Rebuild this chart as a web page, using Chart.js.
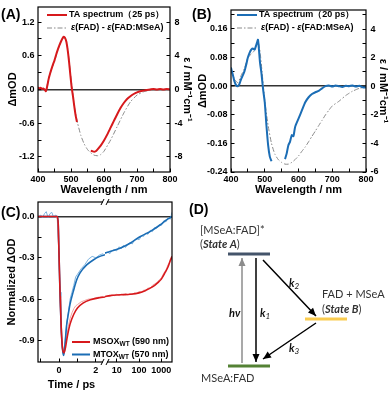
<!DOCTYPE html>
<html>
<head>
<meta charset="utf-8">
<script src="https://cdn.jsdelivr.net/npm/chart.js@4.4.1/dist/chart.umd.min.js"></script>
<style>
  html, body { margin: 0; padding: 0; background: #fff; }
  #wrap { position: relative; width: 390px; height: 393px; overflow: hidden; }
  canvas { position: absolute; }
</style>
</head>
<body>
<div id="wrap">
  <canvas id="chartA" width="195" height="195" style="left:0;top:0"></canvas>
  <canvas id="chartB" width="200" height="195" style="left:190px;top:0"></canvas>
  <canvas id="chartC" width="195" height="198" style="left:0;top:195px"></canvas>
  <canvas id="chartD" width="205" height="198" style="left:185px;top:195px"></canvas>
</div>
<script>
// ---- panel A: TA spectrum at 25 ps (two pieces, gap 520-560 nm) ----
const waveA1 = [400,404,408,412,416,420,424,428,432,436,440,445,450,455,460,465,470,474,478,482,486,490,494,498,502,506,510,514,518];
const taA1 = [0.04,0.02,0.03,0.01,0.02,0.0,-0.03,0.06,0.18,0.27,0.35,0.44,0.52,0.62,0.71,0.79,0.86,0.91,0.94,0.92,0.85,0.70,0.50,0.26,0.04,-0.12,-0.30,-0.46,-0.58];
const waveA2 = [560,565,570,575,580,590,600,610,620,630,640,650,660,670,680,690,700,710,720,730,740,750,760,770,780,790,800];
const taA2 = [-1.09,-1.10,-1.11,-1.10,-1.07,-1.00,-0.91,-0.80,-0.68,-0.56,-0.44,-0.33,-0.24,-0.17,-0.12,-0.08,-0.05,-0.03,-0.02,-0.01,0.0,0.01,0.0,0.01,0.0,0.01,0.0];
// difference spectrum eps(FAD) - eps(FAD:MSeA), mM-1 cm-1
const waveEpsA = [400,410,420,425,430,440,450,460,470,478,485,490,495,500,505,510,520,530,540,550,560,570,580,590,600,620,640,660,680,700,720,740,760,780,800];
const epsA = [0.13,0.13,0,-0.13,1.0,2.33,3.33,4.67,5.67,6.2,5.87,4.8,3.2,1.33,-0.33,-2.0,-4.0,-5.47,-6.47,-7.13,-7.53,-7.8,-7.87,-7.73,-7.33,-6.0,-4.4,-2.8,-1.47,-0.67,-0.27,-0.1,-0.03,0,0];

// ---- panel B: TA spectrum at 20 ps ----
const waveB1 = [400,403,406,410,415,420,425,430,435,440,445,450,455,460,465,470,475,478,480,483,486,490,495,500,505,510,515,520];
const taB1 = [0.052,0.04,0.03,0.014,0.003,0.0,0.006,0.02,0.03,0.042,0.06,0.08,0.093,0.102,0.105,0.102,0.116,0.125,0.13,0.10,0.066,0.038,-0.008,-0.045,-0.11,-0.165,-0.197,-0.21];
const waveB2 = [560,565,570,575,580,585,590,600,610,620,630,640,650,660,670,680,690,700,710,720,730,740,750,760,770,780,790,800];
const taB2 = [-0.204,-0.188,-0.165,-0.155,-0.137,-0.14,-0.114,-0.091,-0.068,-0.045,-0.031,-0.022,-0.017,-0.013,-0.006,0.0,0.002,-0.001,0.002,0.0,-0.002,0.001,0.0,0.002,-0.001,0.001,-0.003,-0.004];
const waveEpsB = [400,410,420,430,440,450,460,470,476,480,484,488,492,496,500,510,520,530,540,550,560,570,580,590,600,610,620,630,640,650,660,670,680,690,700,720,740,760,780,800];
const epsB = [1.13,0.5,0.25,0.75,1.25,2.0,2.25,2.5,3.0,3.13,2.75,2.0,1.0,0,-1.0,-2.75,-4.0,-4.75,-5.13,-5.33,-5.45,-5.45,-5.33,-5.13,-4.88,-4.55,-4.25,-3.88,-3.5,-3.13,-2.75,-2.38,-2.0,-1.68,-1.38,-1.05,-0.65,-0.35,-0.15,-0.05];

// ---- panel C: kinetics, linear part (-1..2.5 ps) and log part (3..3000 ps) ----
const tRedFitLin = [-1.15,-0.1,-0.05,0,0.05,0.1,0.15,0.2,0.27,0.35,0.45,0.6,0.8,1.0,1.3,1.7,2.2,2.5];
const redFitLin = [0,0,-0.05,-0.3,-0.55,-0.75,-0.9,-0.97,-0.99,-0.95,-0.87,-0.78,-0.71,-0.665,-0.63,-0.605,-0.59,-0.585];
const tRedFitLog = [3,5,10,20,40,100,200,400,700,1000,1500,2000,2500,3000];
const redFitLog = [-0.582,-0.575,-0.57,-0.568,-0.565,-0.555,-0.537,-0.512,-0.48,-0.455,-0.405,-0.365,-0.32,-0.29];
const tBlueFitLin = [-1.15,-0.1,-0.05,0,0.05,0.1,0.15,0.2,0.25,0.32,0.41,0.5,0.59,0.77,0.96,1.14,1.5,1.86,2.22,2.5];
const blueFitLin = [0,0,-0.05,-0.3,-0.56,-0.76,-0.9,-0.98,-1.01,-0.93,-0.79,-0.71,-0.64,-0.546,-0.46,-0.41,-0.352,-0.316,-0.29,-0.278];
const tBlueFitLog = [3,5,14,40,110,310,870,1700,3000];
const blueFitLog = [-0.265,-0.255,-0.231,-0.195,-0.147,-0.11,-0.062,-0.025,0.0];

const tDataLin = [-1.1,-1.0,-0.9,-0.8,-0.7,-0.6,-0.5,-0.4,-0.3,-0.2,-0.1,0,0.05,0.1,0.15,0.2,0.25,0.3,0.4,0.5,0.6,0.7,0.8,0.9,1.0,1.2,1.4,1.6,1.8,2.0,2.2,2.4];
const redDataLin = [0,0,0,0,0,0,0,0,0,0,-0.02,-0.32,-0.58,-0.8,-0.93,-0.99,-0.99,-0.94,-0.88,-0.8,-0.74,-0.7,-0.67,-0.65,-0.64,-0.62,-0.61,-0.6,-0.6,-0.59,-0.585,-0.58];
const blueDataLin = [0.0,0.01,-0.01,0.02,0.035,-0.01,0.02,0.03,-0.005,0.01,0.0,-0.3,-0.55,-0.78,-0.92,-0.99,-1.0,-0.95,-0.79,-0.7,-0.6,-0.55,-0.5,-0.44,-0.42,-0.38,-0.35,-0.31,-0.29,-0.3,-0.28,-0.27];
const tDataLog = [3,4,5,6,8,10,13,16,20,25,32,40,50,63,80,100,130,160,200,250,320,400,500,630,800,1000,1300,1600,2000,2500,3000];
const redDataLog = [-0.58,-0.575,-0.58,-0.57,-0.575,-0.565,-0.575,-0.565,-0.57,-0.56,-0.57,-0.56,-0.565,-0.555,-0.56,-0.545,-0.55,-0.535,-0.535,-0.52,-0.52,-0.5,-0.49,-0.48,-0.46,-0.445,-0.41,-0.39,-0.35,-0.33,-0.3];
const blueDataLog = [-0.27,-0.26,-0.27,-0.25,-0.24,-0.25,-0.22,-0.235,-0.21,-0.225,-0.2,-0.19,-0.2,-0.17,-0.16,-0.17,-0.14,-0.145,-0.12,-0.13,-0.1,-0.11,-0.08,-0.085,-0.06,-0.065,-0.03,-0.04,-0.01,-0.02,0.03];

// ---- tick values ----
const waveMajor = [400,500,600,700,800];
const waveMinor = [450,550,650,750];
const aLeftMajor = [-1.2,-0.6,0,0.6,1.2];
const aLeftMinor = [-0.9,-0.3,0.3,0.9];
const aRightMajor = [-8,-4,0,4,8];
const aRightMinor = [-6,-2,2,6];
const bLeftMajor = [-0.24,-0.16,-0.08,0,0.08,0.16];
const bLeftMinor = [-0.2,-0.12,-0.04,0.04,0.12,0.2];
const bRightMajor = [-6,-4,-2,0,2,4];
const bRightMinor = [-5,-3,-1,1,3,5];
const cYMajor = [-0.9,-0.6,-0.3,0];
const cYMinor = [-0.75,-0.45,-0.15];
const cLinMajor = [0,2];
const cLinMinor = [-1,1];
const cLogMajor = [10,100,1000];

// ---- panel D: energy diagram (diagram units) ----
const levelA = [{x:43,y:59},{x:85,y:59}];
const levelB = [{x:120,y:124},{x:162,y:124}];
const levelG = [{x:43,y:171},{x:85,y:171}];
const arrowHv = [{x:57,y:168},{x:57,y:63}];
const arrowK1 = [{x:71,y:63},{x:71,y:167}];
const arrowK2 = [{x:78,y:65},{x:131,y:121}];
const arrowK3 = [{x:131,y:128},{x:78,y:164}];

const RED = '#d7191c';
const BLUE = '#1b6db5';
const GRAY = '#8a8a8a';
const FONT = "'Liberation Sans', Arial, Helvetica, sans-serif";
const tickFont = { family: FONT, size: 9, weight: 'bold' };
const titleFont = { family: FONT, size: 11, weight: 'bold', lineHeight: 1 };

const pts = (xs, ys) => xs.map((x, i) => ({ x: x, y: ys[i] }));

function axis(o) {
  const isZero = c => o.zero && c.tick && c.tick.value === 0;
  return {
    type: o.type || 'linear',
    position: o.pos,
    min: o.min,
    max: o.max,
    stack: o.stack,
    stackWeight: 1,
    border: { display: false },
    grid: {
      drawOnChartArea: !!o.zero,
      color: c => isZero(c) ? '#333' : 'rgba(0,0,0,0)',
      lineWidth: c => isZero(c) ? 1.5 : 1,
      tickLength: -3.5,
      tickWidth: 1,
      tickColor: '#000'
    },
    ticks: {
      font: tickFont,
      color: '#000',
      padding: o.pad,
      maxRotation: 0,
      autoSkip: false,
      callback: (v, i, t) => (t[i] && t[i].lab) ? o.fmt(v) : ''
    },
    title: o.title
      ? { display: true, text: o.title, font: o.titleFont || titleFont, color: '#000', padding: o.titlePad }
      : { display: false },
    afterBuildTicks: s => {
      s.ticks = o.major.map(v => ({ value: v, lab: true }))
        .concat((o.minor || []).map(v => ({ value: v, lab: false })))
        .sort((a, b) => a.value - b.value);
    },
    afterFit: s => {
      if (s.isHorizontal()) s.height = o.size; else s.width = o.size;
      s.paddingLeft = s.paddingRight = s.paddingTop = s.paddingBottom = 0;
    }
  };
}

const framePlugin = {
  id: 'frame',
  afterDraw(chart) {
    const { ctx, chartArea: a } = chart;
    ctx.save();
    ctx.strokeStyle = '#000';
    ctx.lineWidth = 1.2;
    ctx.strokeRect(a.left, a.top, a.right - a.left, a.bottom - a.top);
    ctx.restore();
  }
};

function rich(ctx, x, y, parts) {
  let cx = x;
  parts.forEach(p => {
    ctx.font = p[1];
    ctx.fillText(p[0], cx, y + (p[2] || 0));
    cx += ctx.measureText(p[0]).width;
  });
}

function sample(ctx, x1, x2, y, color, width, dash) {
  ctx.save();
  ctx.strokeStyle = color;
  ctx.lineWidth = width;
  ctx.setLineDash(dash || []);
  ctx.beginPath();
  ctx.moveTo(x1, y);
  ctx.lineTo(x2, y);
  ctx.stroke();
  ctx.restore();
}

const B9 = 'bold 9px ' + FONT;
const BI9 = 'italic bold 9px ' + FONT;
const PANEL = 'bold 14px ' + FONT;
const DASH = [5, 2, 1.5, 2];

function spectrumDeco(tag, color, label) {
  return {
    id: 'deco' + tag,
    afterDraw(chart) {
      const ctx = chart.ctx;
      ctx.save();
      ctx.fillStyle = '#000';
      ctx.textBaseline = 'middle';
      ctx.textAlign = 'left';
      ctx.font = PANEL;
      ctx.fillText('(' + tag + ')', tag === 'A' ? 1 : 2, 15);
      sample(ctx, 47, 67, 15, color, 2);
      rich(ctx, 69, 15, [[label, B9]]);
      sample(ctx, 47, 67, 28, GRAY, 1, DASH);
      rich(ctx, 71, 28, [['ε', BI9], ['(FAD) - ', B9], ['ε', BI9], ['(FAD:MSeA)', B9]]);
      ctx.restore();
    }
  };
}

const common = {
  responsive: false,
  animation: false,
  devicePixelRatio: 1,
  parsing: true,
  plugins: { legend: { display: false }, tooltip: { enabled: false } },
  elements: { point: { radius: 0 }, line: { tension: 0.2 } }
};

// ---------- A ----------
new Chart(document.getElementById('chartA'), {
  type: 'line',
  data: {
    datasets: [
      { data: pts(waveA1, taA1), borderColor: RED, borderWidth: 2, yAxisID: 'y' },
      { data: pts(waveA2, taA2), borderColor: RED, borderWidth: 2, yAxisID: 'y' },
      { data: pts(waveEpsA, epsA), borderColor: GRAY, borderWidth: 1, borderDash: DASH, yAxisID: 'y2' }
    ]
  },
  options: Object.assign({}, common, {
    layout: { padding: { top: 7 } },
    scales: {
      x: axis({ pos: 'bottom', min: 400, max: 800, major: waveMajor, minor: waveMinor, fmt: v => String(v),
        size: 23, pad: 6, title: 'Wavelength / nm', titlePad: { top: 0, bottom: 0 } }),
      y: axis({ pos: 'left', min: -1.47, max: 1.47, major: aLeftMajor, minor: aLeftMinor, fmt: v => v.toFixed(1),
        size: 38, pad: 7, zero: true, title: 'ΔmOD', titlePad: { top: 7, bottom: 0 } }),
      y2: axis({ pos: 'right', min: -9.8, max: 9.8, major: aRightMajor, minor: aRightMinor, fmt: v => String(v),
        size: 25, pad: 8, title: 'ε / mM⁻¹cm⁻¹', titlePad: { top: 2.5, bottom: 0 } })
    }
  }),
  plugins: [framePlugin, spectrumDeco('A', RED, 'TA spectrum（25 ps）')]
});

// ---------- B ----------
new Chart(document.getElementById('chartB'), {
  type: 'line',
  data: {
    datasets: [
      { data: pts(waveB1, taB1), borderColor: BLUE, borderWidth: 2, yAxisID: 'y' },
      { data: pts(waveB2, taB2), borderColor: BLUE, borderWidth: 2, yAxisID: 'y' },
      { data: pts(waveEpsB, epsB), borderColor: GRAY, borderWidth: 1, borderDash: DASH, yAxisID: 'y2' }
    ]
  },
  options: Object.assign({}, common, {
    layout: { padding: { top: 10 } },
    scales: {
      x: axis({ pos: 'bottom', min: 400, max: 800, major: waveMajor, minor: waveMinor, fmt: v => String(v),
        size: 23, pad: 6, title: 'Wavelength / nm', titlePad: { top: 0, bottom: 0 } }),
      y: axis({ pos: 'left', min: -0.24, max: 0.213, major: bLeftMajor, minor: bLeftMinor, fmt: v => v.toFixed(2),
        size: 41, pad: 7, zero: true, title: 'ΔmOD', titlePad: { top: 7.5, bottom: 0 } }),
      y2: axis({ pos: 'right', min: -6, max: 5.33, major: bRightMajor, minor: bRightMinor, fmt: v => String(v),
        size: 24, pad: 8, title: 'ε / mM⁻¹cm⁻¹', titlePad: { top: 1.5, bottom: 0 } })
    }
  }),
  plugins: [framePlugin, spectrumDeco('B', BLUE, 'TA spectrum（20 ps）')]
});

// ---------- C ----------
const cDeco = {
  id: 'decoC',
  afterDraw(chart) {
    const ctx = chart.ctx;
    const a = chart.chartArea;
    const xb = chart.scales.xl.right;
    ctx.save();
    // axis break marks
    [a.top, a.bottom].forEach(y => {
      ctx.fillStyle = '#fff';
      ctx.fillRect(xb - 2, y - 2, 4, 4);
      ctx.strokeStyle = '#000';
      ctx.lineWidth = 1;
      ctx.beginPath();
      ctx.moveTo(xb - 4, y + 3); ctx.lineTo(xb - 1, y - 3);
      ctx.moveTo(xb + 1, y + 3); ctx.lineTo(xb + 4, y - 3);
      ctx.stroke();
    });
    ctx.fillStyle = '#000';
    ctx.textBaseline = 'middle';
    ctx.textAlign = 'left';
    ctx.font = PANEL;
    ctx.fillText('(C)', 1, 18);
    sample(ctx, 72, 90, 147, RED, 2);
    rich(ctx, 93, 147, [['MSOX', B9], ['WT', 'bold 6.5px ' + FONT, 2.5], [' (590 nm)', B9]]);
    sample(ctx, 72, 90, 159.5, BLUE, 2);
    rich(ctx, 93, 159.5, [['MTOX', B9], ['WT', 'bold 6.5px ' + FONT, 2.5], [' (570 nm)', B9]]);
    ctx.restore();
  }
};

new Chart(document.getElementById('chartC'), {
  type: 'line',
  data: {
    datasets: [
      { data: pts(tRedFitLin, redFitLin), borderColor: RED, borderWidth: 1.6, xAxisID: 'xl', cubicInterpolationMode: 'monotone' },
      { data: pts(tRedFitLog, redFitLog), borderColor: RED, borderWidth: 1.6, xAxisID: 'xg', cubicInterpolationMode: 'monotone' },
      { data: pts(tBlueFitLin, blueFitLin), borderColor: BLUE, borderWidth: 1.6, xAxisID: 'xl', cubicInterpolationMode: 'monotone' },
      { data: pts(tBlueFitLog, blueFitLog), borderColor: BLUE, borderWidth: 1.6, xAxisID: 'xg', cubicInterpolationMode: 'monotone' },
      { data: pts(tDataLin, redDataLin), borderColor: '#f0a3a3', borderWidth: 1, xAxisID: 'xl', tension: 0 },
      { data: pts(tDataLog, redDataLog), borderColor: '#f0a3a3', borderWidth: 1, xAxisID: 'xg', tension: 0 },
      { data: pts(tDataLin, blueDataLin), borderColor: '#7db3df', borderWidth: 1, xAxisID: 'xl', tension: 0 },
      { data: pts(tDataLog, blueDataLog), borderColor: '#7db3df', borderWidth: 1, xAxisID: 'xg', tension: 0 }
    ]
  },
  options: Object.assign({}, common, {
    layout: { padding: { top: 7, right: 23 } },
    scales: {
      xl: axis({ pos: 'bottom', stack: 'time', min: -1.15, max: 2.5, major: cLinMajor, minor: cLinMinor, fmt: v => String(v),
        size: 31, pad: 7, title: 'Time / ps', titlePad: { top: 0, bottom: 2.5 } }),
      xg: axis({ type: 'logarithmic', pos: 'bottom', stack: 'time', min: 3, max: 3000, major: cLogMajor, minor: [], fmt: v => String(v),
        size: 31, pad: 7 }),
      y: axis({ pos: 'left', min: -1.057, max: 0.105, major: cYMajor, minor: cYMinor, fmt: v => v.toFixed(1),
        size: 38, pad: 7, zero: true, title: 'Normalized ΔOD', titlePad: { top: 6.5, bottom: 0 } })
    }
  }),
  plugins: [framePlugin, cDeco]
});

// ---------- D ----------
const DFONT = "Lato, 'Open Sans', sans-serif";
const dDeco = {
  id: 'decoD',
  afterDatasetsDraw(chart) {
    const ctx = chart.ctx;
    const sx = chart.scales.x, sy = chart.scales.y;
    ctx.save();
    chart.data.datasets.forEach((ds, i) => {
      if (!ds.arrow) return;
      const el = chart.getDatasetMeta(i).data;
      const p0 = el[el.length - 2], p1 = el[el.length - 1];
      const ang = Math.atan2(p1.y - p0.y, p1.x - p0.x);
      ctx.fillStyle = ds.borderColor;
      ctx.beginPath();
      ctx.moveTo(p1.x, p1.y);
      ctx.lineTo(p1.x - 8 * Math.cos(ang) + 3.5 * Math.sin(ang), p1.y - 8 * Math.sin(ang) - 3.5 * Math.cos(ang));
      ctx.lineTo(p1.x - 8 * Math.cos(ang) - 3.5 * Math.sin(ang), p1.y - 8 * Math.sin(ang) + 3.5 * Math.cos(ang));
      ctx.closePath();
      ctx.fill();
    });
    const px = v => sx.getPixelForValue(v), py = v => sy.getPixelForValue(v);
    const N = '11px ' + DFONT, BI = 'italic bold 11px ' + DFONT, I8 = 'italic 8px ' + DFONT;
    ctx.textBaseline = 'middle';
    ctx.textAlign = 'left';
    ctx.fillStyle = '#000';
    ctx.font = PANEL;
    ctx.fillText('(D)', px(4), py(15));
    ctx.fillStyle = '#333';
    rich(ctx, px(15), py(35), [['[MSeA:FAD]*', N]]);
    rich(ctx, px(15), py(49), [['(', N], ['State A', BI], [')', N]]);
    rich(ctx, px(137), py(99), [['FAD + MSeA', N]]);
    rich(ctx, px(137), py(114), [['(', N], ['State B', BI], [')', N]]);
    rich(ctx, px(16), py(183), [['MSeA:FAD', N]]);
    ctx.fillStyle = '#111';
    rich(ctx, px(44), py(118), [['hν', BI]]);
    rich(ctx, px(75), py(118), [['k', BI], ['1', I8, 3]]);
    rich(ctx, px(104), py(88), [['k', BI], ['2', I8, 3]]);
    rich(ctx, px(104), py(153), [['k', BI], ['3', I8, 3]]);
    ctx.restore();
  }
};

new Chart(document.getElementById('chartD'), {
  type: 'scatter',
  data: {
    datasets: [
      { data: arrowK1, showLine: true, borderColor: '#000', borderWidth: 1.5, arrow: true },
      { data: arrowK2, showLine: true, borderColor: '#000', borderWidth: 1.5, arrow: true },
      { data: arrowK3, showLine: true, borderColor: '#000', borderWidth: 1.5, arrow: true },
      { data: arrowHv, showLine: true, borderColor: '#8c8c8c', borderWidth: 1.5, arrow: true },
      { data: levelA, showLine: true, borderColor: '#44546a', borderWidth: 3 },
      { data: levelB, showLine: true, borderColor: '#f9cb4f', borderWidth: 3 },
      { data: levelG, showLine: true, borderColor: '#548235', borderWidth: 3 }
    ]
  },
  options: Object.assign({}, common, {
    layout: { padding: 0 },
    scales: {
      x: { type: 'linear', min: 0, max: 205, display: false },
      y: { type: 'linear', min: 0, max: 198, reverse: true, display: false }
    }
  }),
  plugins: [dDeco]
});
</script>
</body>
</html>
